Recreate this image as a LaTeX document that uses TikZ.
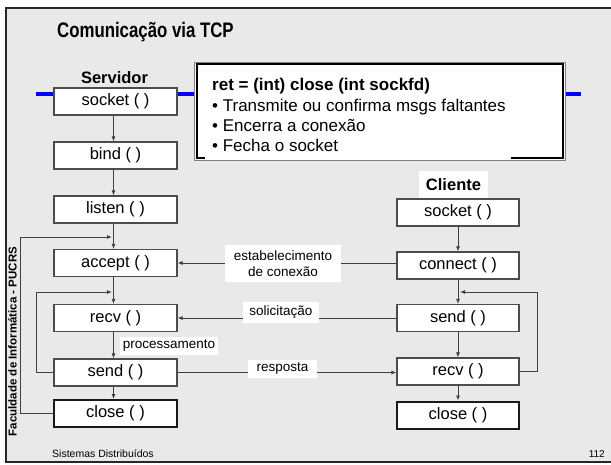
\documentclass[tikz,border=0pt]{standalone}
\usepackage{fontspec}
\setmainfont{Liberation Sans}
\newfontfamily\titlefont[FakeStretch=0.8]{Liberation Sans}
\usetikzlibrary{arrows.meta}
\begin{document}
\begin{tikzpicture}[x=1pt,y=-1pt,
  box/.style={draw=black!70, line width=1.2pt, fill=white, minimum width=123pt, minimum height=27pt, inner sep=0pt, font=\fontsize{16.5}{19}\selectfont},
  endbox/.style={box, draw=black!90, line width=2pt},
  conn/.style={draw=black!75, line width=0.8pt},
  arr/.style={conn, -{Latex[length=5pt,width=4pt]}},
  lbl/.style={fill=white, inner sep=0pt, font=\fontsize{13.5}{16}\selectfont, align=center},
  bodytxt/.style={anchor=base west, inner sep=0pt, font=\fontsize{17}{20}\selectfont}
]
\useasboundingbox (0,0) rectangle (611,464);
\fill[white] (0,0) rectangle (611,464);
\fill[gray!17] (6,8) rectangle (616,462);
\draw[black!85, line width=2pt] (616,8) -- (6,8) -- (6,462) -- (616,462);

% title
\node[anchor=base west, inner sep=0pt, font={\titlefont\bfseries\fontsize{21}{24}\selectfont}] (title) at (57,37) {Comunicação via TCP};

% blue line
\draw[blue, line width=4pt] (36,94) -- (581,94);

% close description box
\draw[gray, line width=1pt, fill=white] (194.5,62.5) rectangle (565.5,160.5);
\draw[black, line width=2pt] (197,64) rectangle (563,158);
\fill[white] (205,156.2) rectangle (511,159.4);
\node[bodytxt, font=\fontsize{17}{20}\selectfont\bfseries] (rt) at (212,90.5) {ret = (int) close (int sockfd)};
\node[bodytxt] (b1) at (212,111) {• Transmite ou confirma msgs faltantes};
\node[bodytxt] (b2) at (212,131) {• Encerra a conexão};
\node[bodytxt] (b3) at (212,151.5) {• Fecha o socket};

% labels
\node[anchor=base, inner sep=0pt, font=\fontsize{16.5}{19}\selectfont\bfseries] (slab) at (114.5,83) {Servidor};
\node[fill=white, minimum width=69pt, minimum height=27pt, inner sep=0pt, font=\fontsize{16.5}{19}\selectfont\bfseries] (clab) at (453.5,184.5) {Cliente};

% server boxes
\node[box] (ssocket) at (115.5,101.5) {socket ( )};
\node[box] (sbind) at (115.5,155.5) {bind ( )};
\node[box] (slisten) at (115.5,209.5) {listen ( )};
\node[box] (saccept) at (115.5,263) {accept ( )};
\node[box] (srecv) at (115.5,318) {recv ( )};
\node[box] (ssend) at (115.5,372.5) {send ( )};
\node[endbox] (sclose) at (115.5,413.5) {close ( )};

% client boxes
\node[box, minimum width=122pt] (csocket) at (458,212.5) {socket ( )};
\node[box, minimum width=122pt] (cconnect) at (458,265.5) {connect ( )};
\node[box, minimum width=122pt] (csend) at (458,318) {send ( )};
\node[box, minimum width=122pt] (crecv) at (458,371.5) {recv ( )};
\node[endbox, minimum width=122pt] (cclose) at (458,415) {close ( )};

% vertical arrows
\foreach \a/\b in {ssocket/sbind, sbind/slisten, slisten/saccept, saccept/srecv, srecv/ssend, ssend/sclose}
  \draw[arr] ([xshift=-2pt]\a.south) -- ([xshift=-2pt]\b.north);
\foreach \a/\b in {csocket/cconnect, cconnect/csend, csend/crecv, crecv/cclose}
  \draw[arr] (\a.south) -- (\b.north);

% loops
\coordinate (inA) at (112,237);
\coordinate (inR) at (112,292);
\coordinate (inC) at (460,292);
\draw[arr] (sclose.west) -- ++(-33,0) |- (inA);
\draw[arr] (ssend.west) -- ++(-17,0) |- (inR);
\draw[arr] (crecv.east) -- ++(18,0) |- (inC);

% horizontal messages
\draw[arr] (cconnect.west |- saccept.east) -- (saccept.east);
\draw[arr] (csend.west) -- (srecv.east);
\draw[arr] (ssend.east) -- (ssend.east -| crecv.west);

\node[lbl, minimum width=116pt, minimum height=37pt] (lest) at (283,263.5) {estabelecimento\\de conexão};
\node[lbl, minimum width=76pt, minimum height=21pt] (lsol) at (281,312.5) {solicitação};
\node[lbl, minimum width=69pt, minimum height=18pt] (lresp) at (282.5,369) {resposta};
\node[lbl, minimum width=98pt, minimum height=18pt] (lproc) at (169,346) {processamento};

% side and footer
\node[rotate=90, anchor=base, inner sep=0pt, font=\fontsize{11.5}{13}\selectfont\bfseries] (fac) at (16.5,341.5) {Faculdade de Informática - PUCRS};
\node[anchor=base west, inner sep=0pt, font=\fontsize{10.5}{12}\selectfont] (foot) at (52,457) {Sistemas Distribuídos};
\node[anchor=base east, inner sep=0pt, font=\fontsize{10}{12}\selectfont] (pg) at (605,457) {112};
\end{tikzpicture}
\end{document}
